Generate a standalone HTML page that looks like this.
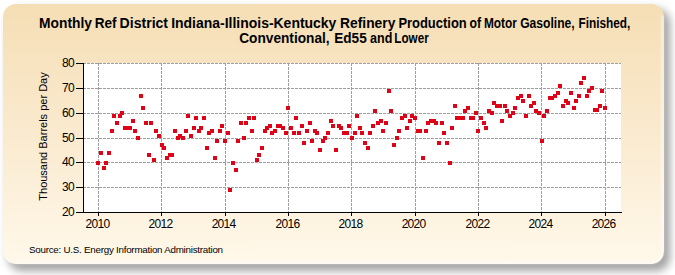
<!DOCTYPE html>
<html><head><meta charset="utf-8"><style>
html,body{margin:0;padding:0;background:#ffffff;width:675px;height:275px;overflow:hidden;}
svg{position:absolute;left:0;top:0;}
text{font-family:"Liberation Sans",sans-serif;fill:#000;}
</style></head><body>
<svg width="675" height="275" viewBox="0 0 675 275">
<defs>
<linearGradient id="bgg" x1="0" y1="0" x2="0" y2="1">
<stop offset="0" stop-color="rgb(245,222,180)"/>
<stop offset="0.5" stop-color="rgb(250,234,207)"/>
<stop offset="1" stop-color="rgb(255,248,234)"/>
</linearGradient>
<filter id="sh" x="-10%" y="-10%" width="120%" height="130%"><feGaussianBlur stdDeviation="4.2"/></filter>
<filter id="soft" x="-5%" y="-5%" width="110%" height="110%"><feGaussianBlur stdDeviation="0.7"/></filter>
<filter id="soft2" x="-5%" y="-5%" width="110%" height="110%"><feGaussianBlur stdDeviation="1.1"/></filter>
</defs>
<rect x="8" y="9" width="662" height="262" rx="14" ry="14" fill="rgba(0,0,0,0.36)" filter="url(#sh)"/>
<rect x="3" y="4" width="661" height="260" rx="13" ry="13" fill="url(#bgg)" filter="url(#soft)"/>
<path d="M662.5 16 L662.5 250 Q662.5 262.5 650 262.5 L16 262.5" stroke="rgba(255,255,255,0.55)" stroke-width="2.5" fill="none" filter="url(#soft2)"/>
<rect x="83" y="63" width="538" height="149" fill="#ffffff"/>
<g stroke="#9e9e9e" stroke-width="1" stroke-dasharray="3 1" fill="none">
<line x1="83" y1="63.5" x2="621" y2="63.5"/><line x1="83" y1="88.5" x2="621" y2="88.5"/><line x1="83" y1="113.5" x2="621" y2="113.5"/><line x1="83" y1="138.5" x2="621" y2="138.5"/><line x1="83" y1="162.5" x2="621" y2="162.5"/><line x1="83" y1="187.5" x2="621" y2="187.5"/><line x1="98.5" y1="63" x2="98.5" y2="212"/><line x1="161.5" y1="63" x2="161.5" y2="212"/><line x1="225.5" y1="63" x2="225.5" y2="212"/><line x1="288.5" y1="63" x2="288.5" y2="212"/><line x1="351.5" y1="63" x2="351.5" y2="212"/><line x1="415.5" y1="63" x2="415.5" y2="212"/><line x1="478.5" y1="63" x2="478.5" y2="212"/><line x1="541.5" y1="63" x2="541.5" y2="212"/><line x1="605.5" y1="63" x2="605.5" y2="212"/>
</g>
<g fill="rgb(224,2,22)">
<rect x="96" y="161" width="4" height="4"/><rect x="99" y="151" width="4" height="4"/><rect x="102" y="166" width="4" height="4"/><rect x="104" y="161" width="4" height="4"/><rect x="107" y="151" width="4" height="4"/><rect x="110" y="129" width="4" height="4"/><rect x="112" y="114" width="4" height="4"/><rect x="115" y="121" width="4" height="4"/><rect x="118" y="114" width="4" height="4"/><rect x="120" y="111" width="4" height="4"/><rect x="123" y="126" width="4" height="4"/><rect x="125" y="126" width="4" height="4"/><rect x="128" y="126" width="4" height="4"/><rect x="131" y="119" width="4" height="4"/><rect x="133" y="129" width="4" height="4"/><rect x="136" y="136" width="4" height="4"/><rect x="139" y="94" width="4" height="4"/><rect x="141" y="106" width="4" height="4"/><rect x="144" y="121" width="4" height="4"/><rect x="147" y="153" width="4" height="4"/><rect x="149" y="121" width="4" height="4"/><rect x="152" y="158" width="4" height="4"/><rect x="154" y="129" width="4" height="4"/><rect x="157" y="134" width="4" height="4"/><rect x="160" y="143" width="4" height="4"/><rect x="162" y="146" width="4" height="4"/><rect x="165" y="156" width="4" height="4"/><rect x="168" y="153" width="4" height="4"/><rect x="170" y="153" width="4" height="4"/><rect x="173" y="129" width="4" height="4"/><rect x="176" y="136" width="4" height="4"/><rect x="178" y="134" width="4" height="4"/><rect x="181" y="136" width="4" height="4"/><rect x="184" y="129" width="4" height="4"/><rect x="186" y="114" width="4" height="4"/><rect x="189" y="134" width="4" height="4"/><rect x="192" y="126" width="4" height="4"/><rect x="194" y="116" width="4" height="4"/><rect x="197" y="129" width="4" height="4"/><rect x="199" y="126" width="4" height="4"/><rect x="202" y="116" width="4" height="4"/><rect x="205" y="146" width="4" height="4"/><rect x="207" y="131" width="4" height="4"/><rect x="210" y="129" width="4" height="4"/><rect x="213" y="156" width="4" height="4"/><rect x="215" y="139" width="4" height="4"/><rect x="218" y="129" width="4" height="4"/><rect x="220" y="124" width="4" height="4"/><rect x="223" y="139" width="4" height="4"/><rect x="226" y="131" width="4" height="4"/><rect x="228" y="188" width="4" height="4"/><rect x="231" y="161" width="4" height="4"/><rect x="234" y="168" width="4" height="4"/><rect x="236" y="139" width="4" height="4"/><rect x="239" y="121" width="4" height="4"/><rect x="242" y="136" width="4" height="4"/><rect x="244" y="121" width="4" height="4"/><rect x="247" y="116" width="4" height="4"/><rect x="250" y="129" width="4" height="4"/><rect x="252" y="116" width="4" height="4"/><rect x="255" y="158" width="4" height="4"/><rect x="257" y="153" width="4" height="4"/><rect x="260" y="146" width="4" height="4"/><rect x="263" y="129" width="4" height="4"/><rect x="265" y="126" width="4" height="4"/><rect x="268" y="124" width="4" height="4"/><rect x="270" y="131" width="4" height="4"/><rect x="273" y="129" width="4" height="4"/><rect x="276" y="124" width="4" height="4"/><rect x="278" y="124" width="4" height="4"/><rect x="281" y="126" width="4" height="4"/><rect x="284" y="131" width="4" height="4"/><rect x="286" y="106" width="4" height="4"/><rect x="289" y="126" width="4" height="4"/><rect x="292" y="131" width="4" height="4"/><rect x="294" y="116" width="4" height="4"/><rect x="297" y="131" width="4" height="4"/><rect x="300" y="124" width="4" height="4"/><rect x="302" y="141" width="4" height="4"/><rect x="305" y="129" width="4" height="4"/><rect x="308" y="121" width="4" height="4"/><rect x="310" y="139" width="4" height="4"/><rect x="313" y="129" width="4" height="4"/><rect x="315" y="131" width="4" height="4"/><rect x="318" y="148" width="4" height="4"/><rect x="321" y="139" width="4" height="4"/><rect x="323" y="136" width="4" height="4"/><rect x="326" y="131" width="4" height="4"/><rect x="329" y="119" width="4" height="4"/><rect x="331" y="124" width="4" height="4"/><rect x="334" y="148" width="4" height="4"/><rect x="337" y="124" width="4" height="4"/><rect x="339" y="126" width="4" height="4"/><rect x="342" y="131" width="4" height="4"/><rect x="345" y="131" width="4" height="4"/><rect x="347" y="124" width="4" height="4"/><rect x="350" y="136" width="4" height="4"/><rect x="353" y="131" width="4" height="4"/><rect x="355" y="114" width="4" height="4"/><rect x="358" y="126" width="4" height="4"/><rect x="360" y="131" width="4" height="4"/><rect x="363" y="141" width="4" height="4"/><rect x="366" y="146" width="4" height="4"/><rect x="368" y="131" width="4" height="4"/><rect x="371" y="124" width="4" height="4"/><rect x="373" y="109" width="4" height="4"/><rect x="376" y="121" width="4" height="4"/><rect x="379" y="119" width="4" height="4"/><rect x="381" y="129" width="4" height="4"/><rect x="384" y="121" width="4" height="4"/><rect x="387" y="89" width="4" height="4"/><rect x="389" y="109" width="4" height="4"/><rect x="392" y="143" width="4" height="4"/><rect x="395" y="136" width="4" height="4"/><rect x="397" y="129" width="4" height="4"/><rect x="400" y="116" width="4" height="4"/><rect x="403" y="114" width="4" height="4"/><rect x="405" y="126" width="4" height="4"/><rect x="408" y="119" width="4" height="4"/><rect x="410" y="114" width="4" height="4"/><rect x="413" y="116" width="4" height="4"/><rect x="416" y="129" width="4" height="4"/><rect x="418" y="129" width="4" height="4"/><rect x="421" y="156" width="4" height="4"/><rect x="424" y="129" width="4" height="4"/><rect x="426" y="121" width="4" height="4"/><rect x="429" y="119" width="4" height="4"/><rect x="432" y="119" width="4" height="4"/><rect x="434" y="121" width="4" height="4"/><rect x="437" y="141" width="4" height="4"/><rect x="440" y="121" width="4" height="4"/><rect x="442" y="131" width="4" height="4"/><rect x="445" y="141" width="4" height="4"/><rect x="448" y="161" width="4" height="4"/><rect x="450" y="126" width="4" height="4"/><rect x="453" y="104" width="4" height="4"/><rect x="455" y="116" width="4" height="4"/><rect x="458" y="116" width="4" height="4"/><rect x="461" y="116" width="4" height="4"/><rect x="463" y="109" width="4" height="4"/><rect x="466" y="106" width="4" height="4"/><rect x="469" y="116" width="4" height="4"/><rect x="471" y="116" width="4" height="4"/><rect x="474" y="111" width="4" height="4"/><rect x="476" y="129" width="4" height="4"/><rect x="479" y="116" width="4" height="4"/><rect x="482" y="121" width="4" height="4"/><rect x="484" y="126" width="4" height="4"/><rect x="487" y="109" width="4" height="4"/><rect x="490" y="111" width="4" height="4"/><rect x="492" y="101" width="4" height="4"/><rect x="495" y="104" width="4" height="4"/><rect x="498" y="104" width="4" height="4"/><rect x="500" y="119" width="4" height="4"/><rect x="503" y="104" width="4" height="4"/><rect x="505" y="109" width="4" height="4"/><rect x="508" y="114" width="4" height="4"/><rect x="511" y="111" width="4" height="4"/><rect x="513" y="106" width="4" height="4"/><rect x="516" y="96" width="4" height="4"/><rect x="519" y="94" width="4" height="4"/><rect x="521" y="99" width="4" height="4"/><rect x="524" y="114" width="4" height="4"/><rect x="527" y="94" width="4" height="4"/><rect x="529" y="104" width="4" height="4"/><rect x="532" y="101" width="4" height="4"/><rect x="534" y="109" width="4" height="4"/><rect x="537" y="111" width="4" height="4"/><rect x="540" y="139" width="4" height="4"/><rect x="542" y="114" width="4" height="4"/><rect x="545" y="109" width="4" height="4"/><rect x="548" y="96" width="4" height="4"/><rect x="550" y="96" width="4" height="4"/><rect x="553" y="94" width="4" height="4"/><rect x="556" y="91" width="4" height="4"/><rect x="558" y="84" width="4" height="4"/><rect x="561" y="104" width="4" height="4"/><rect x="564" y="99" width="4" height="4"/><rect x="566" y="101" width="4" height="4"/><rect x="569" y="91" width="4" height="4"/><rect x="572" y="106" width="4" height="4"/><rect x="574" y="99" width="4" height="4"/><rect x="577" y="94" width="4" height="4"/><rect x="579" y="81" width="4" height="4"/><rect x="582" y="76" width="4" height="4"/><rect x="585" y="94" width="4" height="4"/><rect x="587" y="89" width="4" height="4"/><rect x="590" y="86" width="4" height="4"/><rect x="593" y="108" width="4" height="4"/><rect x="595" y="108" width="4" height="4"/><rect x="598" y="104" width="4" height="4"/><rect x="600" y="89" width="4" height="4"/><rect x="603" y="106" width="4" height="4"/>
</g>
<g stroke="#000" stroke-width="1">
<line x1="83.5" y1="63" x2="83.5" y2="213"/>
<line x1="83" y1="212.5" x2="622" y2="212.5"/>
</g>
<g font-size="12" letter-spacing="-0.7">
<text x="74" y="66.5" text-anchor="end">80</text><text x="74" y="91.5" text-anchor="end">70</text><text x="74" y="116.5" text-anchor="end">60</text><text x="74" y="141.5" text-anchor="end">50</text><text x="74" y="165.5" text-anchor="end">40</text><text x="74" y="190.5" text-anchor="end">30</text><text x="74" y="215.5" text-anchor="end">20</text>
<text x="97.5" y="228" text-anchor="middle">2010</text><text x="160.5" y="228" text-anchor="middle">2012</text><text x="223.6" y="228" text-anchor="middle">2014</text><text x="287.5" y="228" text-anchor="middle">2016</text><text x="350.5" y="228" text-anchor="middle">2018</text><text x="413.6" y="228" text-anchor="middle">2020</text><text x="477.5" y="228" text-anchor="middle">2022</text><text x="540.5" y="228" text-anchor="middle">2024</text><text x="603.6" y="228" text-anchor="middle">2026</text>
</g>
<g stroke="#000" stroke-width="1">
<line x1="76" y1="63.5" x2="83" y2="63.5"/><line x1="76" y1="88.5" x2="83" y2="88.5"/><line x1="76" y1="113.5" x2="83" y2="113.5"/><line x1="76" y1="138.5" x2="83" y2="138.5"/><line x1="76" y1="162.5" x2="83" y2="162.5"/><line x1="76" y1="187.5" x2="83" y2="187.5"/><line x1="76" y1="212.5" x2="83" y2="212.5"/>
<line x1="98.5" y1="212" x2="98.5" y2="216"/><line x1="161.5" y1="212" x2="161.5" y2="216"/><line x1="225.5" y1="212" x2="225.5" y2="216"/><line x1="288.5" y1="212" x2="288.5" y2="216"/><line x1="351.5" y1="212" x2="351.5" y2="216"/><line x1="415.5" y1="212" x2="415.5" y2="216"/><line x1="478.5" y1="212" x2="478.5" y2="216"/><line x1="541.5" y1="212" x2="541.5" y2="216"/><line x1="605.5" y1="212" x2="605.5" y2="216"/>
</g>
<g font-weight="bold" font-size="14">
<text x="39.01" y="28" textLength="52.93" lengthAdjust="spacingAndGlyphs">Monthly</text>
<text x="94.63" y="28" textLength="21.84" lengthAdjust="spacingAndGlyphs">Ref</text>
<text x="119.60" y="28" textLength="48.44" lengthAdjust="spacingAndGlyphs">District</text>
<text x="171.20" y="28" textLength="165.20" lengthAdjust="spacingAndGlyphs">Indiana-Illinois-Kentucky</text>
<text x="340.11" y="28" textLength="55.22" lengthAdjust="spacingAndGlyphs">Refinery</text>
<text x="398.38" y="28" textLength="68.35" lengthAdjust="spacingAndGlyphs">Production</text>
<text x="469.43" y="28" textLength="11.57" lengthAdjust="spacingAndGlyphs">of</text>
<text x="483.95" y="28" textLength="32.95" lengthAdjust="spacingAndGlyphs">Motor</text>
<text x="520.13" y="28" textLength="54.56" lengthAdjust="spacingAndGlyphs">Gasoline,</text>
<text x="578.45" y="28" textLength="51.93" lengthAdjust="spacingAndGlyphs">Finished,</text>
<text x="239.22" y="43" textLength="90.43" lengthAdjust="spacingAndGlyphs">Conventional,</text>
<text x="334.23" y="43" textLength="32.53" lengthAdjust="spacingAndGlyphs">Ed55</text>
<text x="370.00" y="43" textLength="22.30" lengthAdjust="spacingAndGlyphs">and</text>
<text x="394.37" y="43" textLength="34.33" lengthAdjust="spacingAndGlyphs">Lower</text>
</g>
<text x="0" y="0" font-size="11" text-anchor="middle" transform="translate(47,136.5) rotate(-90)">Thousand Barrels per Day</text>
<text x="29" y="252.5" font-size="9.8" letter-spacing="-0.25">Source: U.S. Energy Information Administration</text>
</svg>
</body></html>
